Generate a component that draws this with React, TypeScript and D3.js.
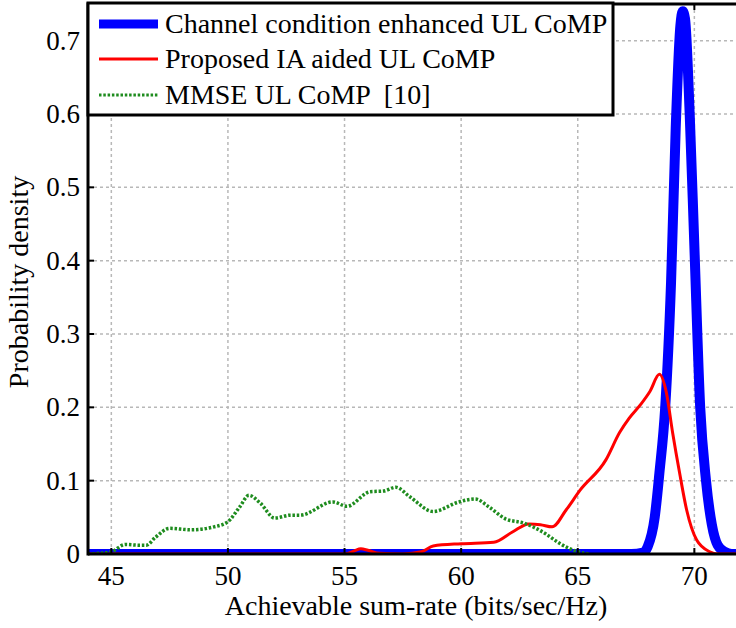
import React from "react";
import * as d3 from "d3";

const xTicks = [45, 50, 55, 60, 65, 70];
const yTicks = [0, 0.1, 0.2, 0.3, 0.4, 0.5, 0.6, 0.7];

const blueX = [44, 50, 55, 60, 65, 67.3, 67.8, 68.0, 68.3, 68.5, 68.75, 69.0, 69.2, 69.4, 69.5, 69.6, 69.8, 70.0, 70.25, 70.5, 70.75, 71.0, 71.3, 71.6, 72];
const blueY = [0, 0, 0, 0, 0, 0, 0.002, 0.01, 0.05, 0.11, 0.2, 0.37, 0.58, 0.72, 0.74, 0.73, 0.6, 0.42, 0.2, 0.1, 0.04, 0.012, 0.003, 0, 0];

const redX = [44, 55.0, 55.4, 55.7, 56.0, 56.5, 57.5, 58.3, 58.8, 60.0, 61.4, 62.2, 62.9, 63.4, 63.9, 64.5, 65.1, 66.2, 66.8, 67.2, 67.7, 68.1, 68.5, 68.8, 69.07, 69.37, 69.67, 70.1, 70.66, 71, 72];
const redY = [0, 0, 0.004, 0.007, 0.005, 0.001, 0, 0.003, 0.011, 0.014, 0.016, 0.03, 0.041, 0.04, 0.037, 0.06, 0.087, 0.128, 0.166, 0.185, 0.204, 0.222, 0.245, 0.22, 0.165, 0.11, 0.06, 0.019, 0.003, 0, 0];

const greenX = [44, 44.5, 45, 45.6, 46.2, 46.5, 46.9, 47.5, 48.4, 49.4, 50, 50.5, 50.9, 51.4, 52, 52.7, 53.1, 54.5, 55.1, 56.1, 56.7, 57.2, 57.8, 58.8, 59.9, 60.6, 61.2, 61.9, 62.7, 63.6, 64.2, 64.9, 65.5];
const greenY = [0, 0.001, 0.003, 0.013, 0.012, 0.012, 0.023, 0.035, 0.033, 0.037, 0.044, 0.064, 0.08, 0.069, 0.049, 0.053, 0.053, 0.071, 0.065, 0.085, 0.086, 0.091, 0.078, 0.058, 0.071, 0.075, 0.064, 0.048, 0.042, 0.028, 0.015, 0.004, 0];

const legendLabels = [
  "Channel condition enhanced UL CoMP",
  "Proposed IA aided UL CoMP",
  "MMSE UL CoMP  [10]",
];

const W = 736;
const H = 628;
const L = 88, R = 741, T = 4, B = 554;
const FONT = "Liberation Serif";

export default function App() {
  const x = d3.scaleLinear().domain([44, 72]).range([L, R]);
  const y = d3.scaleLinear().domain([0, 0.75]).range([B, T]);
  const line = d3
    .line<[number, number]>()
    .x((d) => x(d[0]))
    .y((d) => y(d[1]))
    .curve(d3.curveMonotoneX);
  const zip = (a: number[], b: number[]) => a.map((v, i) => [v, b[i]] as [number, number]);

  const series = [
    { d: line(zip(blueX, blueY)), color: "#0000ff", w: 10, dash: undefined as string | undefined },
    { d: line(zip(redX, redY)), color: "#ff0000", w: 3, dash: undefined },
    { d: line(zip(greenX, greenY)), color: "#1e8c1e", w: 3.5, dash: "2.5,1.8" },
  ];

  const legendRows = [24, 59, 95];

  return (
    <svg width={W} height={H} style={{ position: "absolute", left: 0, top: 0, background: "#fff" }}>
      <defs>
        <clipPath id="plotClip">
          <rect x={L} y={T} width={R - L} height={B - T} />
        </clipPath>
      </defs>
      <rect x={0} y={0} width={W} height={H} fill="#fff" />
      {/* grid */}
      <g stroke="#b8b8b8" strokeWidth={1.5} strokeDasharray="3,3">
        {xTicks.map((t) => (
          <line key={"gx" + t} x1={x(t)} x2={x(t)} y1={T} y2={B} />
        ))}
        {yTicks.filter((t) => t > 0).map((t) => (
          <line key={"gy" + t} x1={L} x2={R} y1={y(t)} y2={y(t)} />
        ))}
      </g>
      {/* series */}
      <g clipPath="url(#plotClip)" fill="none">
        {series.map((s, i) => (
          <path key={i} d={s.d || ""} stroke={s.color} strokeWidth={s.w} strokeDasharray={s.dash} strokeLinejoin="round" />
        ))}
      </g>
      {/* axes box */}
      <g stroke="#000" strokeWidth={3} fill="none">
        <line x1={L} x2={L} y1={T - 1.5} y2={B + 1.5} />
        <line x1={L} x2={R} y1={B} y2={B} />
        <line x1={L} x2={R} y1={T} y2={T} />
      </g>
      {/* ticks */}
      <g stroke="#000" strokeWidth={2}>
        {xTicks.map((t) => (
          <g key={"tx" + t}>
            <line x1={x(t)} x2={x(t)} y1={B} y2={B - 6} />
            <line x1={x(t)} x2={x(t)} y1={T} y2={T + 6} />
          </g>
        ))}
        {yTicks.map((t) => (
          <line key={"ty" + t} x1={L} x2={L + 6} y1={y(t)} y2={y(t)} />
        ))}
      </g>
      {/* tick labels */}
      <g fill="#000" fontFamily={FONT} fontSize={27}>
        {xTicks.map((t) => (
          <text key={"lx" + t} x={x(t)} y={585} textAnchor="middle">
            {t}
          </text>
        ))}
        {yTicks.map((t) => (
          <text key={"ly" + t} x={80} y={y(t) + 9} textAnchor="end">
            {t === 0 ? "0" : t.toFixed(1)}
          </text>
        ))}
      </g>
      {/* axis titles */}
      <text x={416} y={615} textAnchor="middle" fontFamily={FONT} fontSize={28}>
        Achievable sum-rate (bits/sec/Hz)
      </text>
      <text transform={`translate(28,282) rotate(-90)`} textAnchor="middle" fontFamily={FONT} fontSize={28}>
        Probability density
      </text>
      {/* legend */}
      <rect x={L} y={T - 1} width={613 - L} height={115 - T + 1} fill="#fff" stroke="#000" strokeWidth={3} />
      {series.map((s, i) => (
        <g key={"lg" + i}>
          <line
            x1={99}
            x2={158}
            y1={legendRows[i]}
            y2={legendRows[i]}
            stroke={s.color}
            strokeWidth={i === 0 ? 9 : 3}
            strokeDasharray={s.dash}
          />
          <text x={165} y={legendRows[i] + 9} fontFamily={FONT} fontSize={28} style={{ whiteSpace: "pre" }}>
            {legendLabels[i]}
          </text>
        </g>
      ))}
    </svg>
  );
}
